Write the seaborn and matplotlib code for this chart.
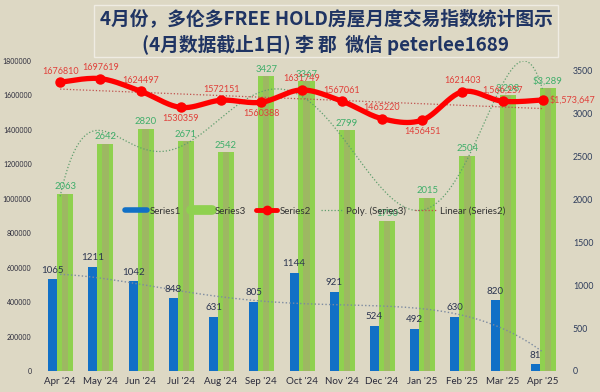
import numpy as np
import pandas as pd
import matplotlib
matplotlib.use("Agg")
import matplotlib.pyplot as plt
import seaborn as sns
from matplotlib.lines import Line2D
from matplotlib.patches import Rectangle

# ---------------- data ----------------
months = ["Apr '24", "May '24", "Jun '24", "Jul '24", "Aug '24", "Sep '24", "Oct '24",
          "Nov '24", "Dec '24", "Jan '25", "Feb '25", "Mar '25", "Apr '25"]
series1 = [1065, 1211, 1042, 848, 631, 805, 1144, 921, 524, 492, 630, 820, 81]
series3 = [2063, 2642, 2820, 2671, 2542, 3427, 3367, 2799, 1750, 2015, 2504, 3208, 3289]
series2 = [1676810, 1697619, 1624497, 1530359, 1572151, 1560388, 1631749,
           1567061, 1465220, 1456451, 1621403, 1566257, 1573647]
series1_labels = [str(v) for v in series1]
series3_labels = ["2063", "2642", "2820", "2671", "2542", "3427", "3367", "2799",
                  "1750", "2015", "2504", "3,208", "$3,289"]
series2_labels = ["1676810", "1697619", "1624497", "1530359", "1572151", "1560388",
                  "1631749", "1567061", "1465220", "1456451", "1621403",
                  "1,566,257", "$1,573,647"]
series2_label_pos = ["above", "above", "above", "below", "above", "below", "above",
                     "above", "above", "below", "above", "above", "right"]
left_ticks = [0, 200000, 400000, 600000, 800000, 1000000, 1200000, 1400000, 1600000, 1800000]
right_ticks = [0, 500, 1000, 1500, 2000, 2500, 3000, 3500]
title_line1 = "4月份，多伦多FREE HOLD房屋月度交易指数统计图示"
title_line2 = "(4月数据截止1日) 李 郡  微信 peterlee1689"

# ---------------- style ----------------
BG = "#ddd8c4"
BLUE = "#1170c6"
GREEN = "#8fd14f"
GREEN_DARK = "#9db862"
RED = "#ff0000"
RED_LBL = "#e0403a"
GREEN_LBL = "#3fae6a"
BLUE_LBL = "#2c3550"
NAVY = "#1f3463"

sns.set_theme(style="white")
plt.rcParams["font.family"] = ["Lato", "DejaVu Sans"]

fig = plt.figure(figsize=(6, 3.92), dpi=100, facecolor=BG)
ax = fig.add_axes([40 / 600, 21 / 392, 523 / 600, 310 / 392])
ax.set_facecolor("none")
ax2 = ax.twinx()
ax2.set_facecolor("none")

x = np.arange(len(months))

# bars (right scale) on the lower axes
bar_kw = dict(native_scale=True, saturation=1, errorbar=None, ax=ax, linewidth=0)
sns.barplot(x=x + 0.124, y=series3, width=0.40, color=GREEN, zorder=2, **bar_kw)
sns.barplot(x=x + 0.124, y=series3, width=0.16, color=GREEN_DARK, zorder=2, **bar_kw)
sns.barplot(x=x - 0.186, y=series1, width=0.224, color=BLUE, zorder=3, **bar_kw)
for p in ax.patches:
    p.set_edgecolor("none")

# trendlines on bar scale
xs = np.linspace(0, len(months) - 1, 300)
p3 = np.polyfit(x, series3, 6)
ax.plot(xs, np.polyval(p3, xs), color="#5f9e6e", lw=0.9, ls=(0, (1, 1.6)), zorder=4)
p1 = np.polyfit(x, series1, 4)
ax.plot(xs, np.polyval(p1, xs), color="#7d8ba0", lw=1.0, ls=(0, (1, 1.6)), zorder=4)

for xi, v, lbl in zip(x, series3, series3_labels):
    ax.annotate(lbl, (xi + 0.124, v), xytext=(0, 5), textcoords="offset points",
                ha="center", va="center", fontsize=6.8, color=GREEN_LBL, zorder=6)
for xi, v, lbl in zip(x, series1, series1_labels):
    ax.annotate(lbl, (xi - 0.186, v), xytext=(0, 6.5), textcoords="offset points",
                ha="center", va="center", fontsize=7, color=BLUE_LBL, zorder=6)

ax.set_xlim(-0.5, len(months) - 0.5)
ax.set_ylim(0, 3605)
ax.set_xticks(x)
ax.set_xticklabels(months, fontsize=7, color="#2a2a3a")
ax.yaxis.tick_right()
ax.set_yticks(right_ticks)
ax.set_yticklabels([str(t) for t in right_ticks], fontsize=6.3, color="#2f3d5c")
ax.tick_params(axis="both", length=0)
ax.tick_params(axis="x", pad=4)
ax.tick_params(axis="y", pad=7)
ax.set_xlabel("")
ax.set_ylabel("")

# red line (left scale) on upper axes
def smooth_curve(xv, yv, n=24):
    P = np.column_stack([xv, yv]).astype(float)
    E = np.vstack([P[0], P, P[-1]])
    pieces = []
    t = np.linspace(0, 1, n, endpoint=False)[:, None]
    for i in range(len(P) - 1):
        q0, q1, q2, q3 = E[i], E[i + 1], E[i + 2], E[i + 3]
        pts = 0.5 * (2 * q1 + (-q0 + q2) * t + (2 * q0 - 5 * q1 + 4 * q2 - q3) * t ** 2
                     + (-q0 + 3 * q1 - 3 * q2 + q3) * t ** 3)
        pieces.append(pts)
    pieces.append(P[-1:])
    return np.vstack(pieces)

p2 = np.polyfit(x, series2, 1)
ax2.plot(x, np.polyval(p2, x), color="#c0504d", lw=0.9, ls=(0, (1, 1.6)), zorder=3)
curve = smooth_curve(x, series2)
sns.lineplot(x=curve[:, 0], y=curve[:, 1], sort=False, color=RED, lw=3.8, ax=ax2, zorder=5)
ax2.plot(x, series2, "o", color=RED, ms=6.5, zorder=6)

for xi, v, lbl, pos in zip(x, series2, series2_labels, series2_label_pos):
    if pos == "above":
        off, ha = (0, 8), "center"
    elif pos == "below":
        off, ha = (0, -8), "center"
    else:
        off, ha = (5, 0), "left"
    ax2.annotate(lbl, (xi, v), xytext=off, textcoords="offset points", ha=ha,
                 va="center", fontsize=6.5, color=RED_LBL, zorder=7)

ax2.set_ylim(0, 1800000)
ax2.yaxis.tick_left()
ax2.set_yticks(left_ticks)
ax2.set_yticklabels([str(t) for t in left_ticks], fontsize=5, color="#2a2a3a")
ax2.tick_params(axis="y", length=0, pad=6)
ax2.set_ylabel("")

for a in (ax, ax2):
    for s in a.spines.values():
        s.set_visible(False)
    a.grid(False)

handles = [
    Line2D([], [], color=BLUE, lw=4),
    Line2D([], [], color=GREEN, lw=7),
    Line2D([], [], color=RED, lw=3.5, marker="o", ms=6),
    Line2D([], [], color="#5f9e6e", lw=0.9, ls=(0, (1, 1.6))),
    Line2D([], [], color="#c0504d", lw=0.9, ls=(0, (1, 1.6))),
]
labels = ["Series1", "Series3", "Series2", "Poly. (Series3)", "Linear (Series2)"]
leg = ax2.legend(handles, labels, loc="center", bbox_to_anchor=(0.526, 0.516), ncol=5,
                 frameon=False, fontsize=7, handlelength=2.2, columnspacing=1.0,
                 handletextpad=0.3, labelcolor="#333333")
leg.set_zorder(10)

# title box
fig.patches.append(Rectangle((94 / 600, 1 - 57 / 392), 464 / 600, 52 / 392,
                             transform=fig.transFigure, fill=False, ec="#efece3", lw=1))
fig.text(326 / 600, 1 - 19 / 392, title_line1, ha="center", va="center", fontsize=13.5,
         fontweight="bold", color=NAVY, family=["Noto Sans CJK SC", "DejaVu Sans"])
fig.text(326 / 600, 1 - 45 / 392, title_line2, ha="center", va="center", fontsize=13.5,
         fontweight="bold", color=NAVY, family=["Noto Sans CJK SC", "DejaVu Sans"])

fig.savefig("out.png", dpi=100, facecolor=BG)
